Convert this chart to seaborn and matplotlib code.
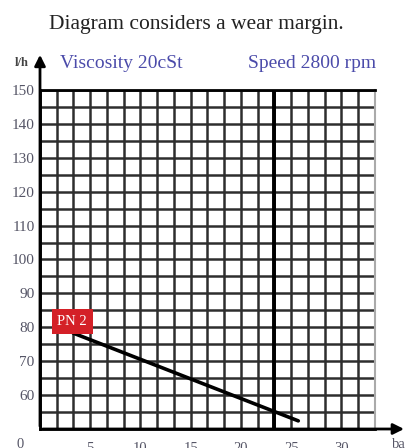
import numpy as np
import pandas as pd
import matplotlib
matplotlib.use("Agg")
import matplotlib.pyplot as plt
import seaborn as sns

# ---- data ----
title = "Diagram considers a wear margin."
left_note = "Viscosity 20cSt"
right_note = "Speed 2800 rpm"
series_name = "PN 2"
pressure_bar = [3.3, 25.7]
flow_lh = [78.3, 52.4]
x_tick_values = [5, 10, 15, 20, 25, 30]
y_tick_values = [60, 70, 80, 90, 100, 110, 120, 130, 140, 150]
x_unit = "bar"
y_unit = "l/h"
marker_bar = 23.33

sns.set_style("white")
plt.rcParams["font.family"] = ["Liberation Serif", "DejaVu Serif"]

fig = plt.figure(figsize=(4.06, 4.48), dpi=100)
ax = fig.add_axes([40/406, 1-429/448, 335/406, 339/448])

df = pd.DataFrame({"bar": pressure_bar, "lh": flow_lh})

xmax = 100/3
ax.set_xlim(0, xmax)
ax.set_ylim(50, 150)

sns.lineplot(data=df, x="bar", y="lh", color="black", lw=2.6, ax=ax, zorder=3)

ax.set_xticks(x_tick_values)
ax.set_yticks(y_tick_values)
# grid every 5/3 bar and every 5 l/h
ax.set_xticks(np.arange(0, xmax + 0.01, 5/3), minor=True)
ax.set_yticks(np.arange(50, 150.1, 5), minor=True)
ax.grid(which="both", color="#2e2e2e", lw=1.8)
ax.set_axisbelow(True)
ax.axvline(marker_bar, color="black", lw=2.8, zorder=2)

ax.tick_params(which="both", length=0)
ax.tick_params(axis="y", labelsize=11, labelcolor="#555566", pad=4)
ax.tick_params(axis="x", labelsize=10.5, labelcolor="#555566", pad=9)
ax.set_xlabel("")
ax.set_ylabel("")

for s in ["left", "bottom", "top"]:
    ax.spines[s].set_color("black")
    ax.spines[s].set_linewidth(2)
ax.spines["right"].set_color("#aaaaaa")
ax.spines["right"].set_linewidth(1.5)

# axis arrows
ax.annotate("", xy=(0, 1.112), xytext=(0, 0), xycoords="axes fraction",
            arrowprops=dict(arrowstyle="-|>", color="black", lw=2, mutation_scale=16),
            annotation_clip=False)
ax.annotate("", xy=(1.095, 0), xytext=(0, 0), xycoords="axes fraction",
            arrowprops=dict(arrowstyle="-|>", color="black", lw=2, mutation_scale=16),
            annotation_clip=False)

# labels
ax.text(pressure_bar[0] - 0.1, flow_lh[0] + 3.4, series_name, color="white", fontsize=10.5,
        ha="center", va="center", zorder=5,
        bbox=dict(boxstyle="square,pad=0.4", fc="#d42027", ec="none"))

fig.text(196/406, 1-25/448, title, fontsize=15.5, ha="center", va="center", color="#222222")
fig.text(60/406, 1-64/448, left_note, fontsize=14, ha="left", va="center", color="#4b4baa")
fig.text(376/406, 1-64/448, right_note, fontsize=14, ha="right", va="center", color="#4b4baa")
fig.text(22/406, 1-63/448, y_unit, fontsize=9, ha="center", va="center", color="#444444", weight="bold")
fig.text(20/406, 1-444/448, "0", fontsize=10.5, ha="center", va="center", color="#555566")
fig.text(392/406, 1-444/448, x_unit, fontsize=10.5, ha="left", va="center", color="#555566")

fig.savefig("out.png", dpi=100)
